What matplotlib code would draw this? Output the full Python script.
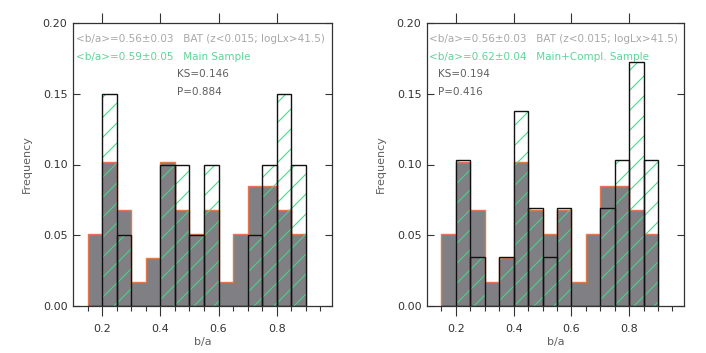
import numpy as np
import matplotlib
matplotlib.use("Agg")
import matplotlib.pyplot as plt

# ---- data ----
bin_edges = [0.15, 0.20, 0.25, 0.30, 0.35, 0.40, 0.45, 0.50, 0.55, 0.60,
             0.65, 0.70, 0.75, 0.80, 0.85, 0.90]
bat_freq = [0.0508, 0.1017, 0.0678, 0.0169, 0.0339, 0.1017, 0.0678, 0.0508,
            0.0678, 0.0169, 0.0508, 0.0847, 0.0847, 0.0678, 0.0508]
main_freq = [0.0, 0.15, 0.05, 0.0, 0.0, 0.10, 0.10, 0.05,
             0.10, 0.0, 0.0, 0.05, 0.10, 0.15, 0.10]
compl_freq = [0.0, 0.1034, 0.0345, 0.0, 0.0345, 0.1379, 0.0690, 0.0345,
              0.0690, 0.0, 0.0, 0.0690, 0.1034, 0.1724, 0.1034]

panel_samples = [main_freq, compl_freq]
line1 = "<b/a>=0.56\u00b10.03   BAT (z<0.015; logLx>41.5)"
line2_texts = ["<b/a>=0.59\u00b10.05   Main Sample",
               "<b/a>=0.62\u00b10.04   Main+Compl. Sample"]
ks_texts = ["KS=0.146", "KS=0.194"]
p_texts = ["P=0.884", "P=0.416"]
xticks_major = [0.2, 0.4, 0.6, 0.8]
yticks = [0.00, 0.05, 0.10, 0.15, 0.20]

# ---- style ----
DPI = 60
S = 100.0 / DPI  # point scale so sizes look as at 100 dpi
grey = "#808084"
orange = "#e0784f"
green = "#3fd888"
txt_grey = "#a8a8a8"
txt_green = "#5ed49a"
txt_dark = "#606060"
axcol = "#333333"
plt.rcParams['font.family'] = ['DejaVu Sans']
plt.rcParams['hatch.linewidth'] = 0.75 * S

W, H = 706, 353
fig = plt.figure(figsize=(W / DPI, H / DPI), dpi=DPI)

axes_px = [(73, 332), (427, 684)]
top_px, bot_px = 23, 306
text_x = [76, 429]
ks_x = [177, 438]

edges = np.array(bin_edges)
widths = np.diff(edges)
lefts = edges[:-1]
fs = 7.5 * S
tfs = 8 * S

for i, (l, r) in enumerate(axes_px):
    ax = fig.add_axes([l / W, 1 - bot_px / H, (r - l) / W, (bot_px - top_px) / H])
    sample = panel_samples[i]
    # BAT: grey filled step with orange outline
    ax.stairs(bat_freq, edges, fill=True, color=grey, zorder=1)
    ax.stairs(bat_freq, edges, baseline=0, color=orange, lw=1.0 * S, zorder=2)
    # sample: green hatch + black outline bars
    ax.bar(lefts, sample, width=widths, align='edge', facecolor='none',
           edgecolor=green, hatch='/', lw=0, zorder=3)
    ax.bar(lefts, sample, width=widths, align='edge', facecolor='none',
           edgecolor='#111111', lw=1.0 * S, zorder=4)

    ax.set_xlim(0.1, 0.99)
    ax.set_ylim(0, 0.2)
    ax.set_xticks(xticks_major)
    ax.set_xticklabels(["%.1f" % v for v in xticks_major])
    ax.set_xticks(np.arange(0.15, 0.99, 0.05), minor=True)
    ax.set_yticks(yticks)
    ax.set_yticklabels(["%.2f" % v for v in yticks])
    ax.tick_params(axis='x', which='major', direction='out', length=7 * S, width=0.8 * S,
                   colors=axcol, labelsize=tfs, pad=6 * S, top=True)
    ax.tick_params(axis='x', which='minor', direction='out', length=3.5 * S, width=0.8 * S,
                   colors=axcol, top=False)
    ax.tick_params(axis='y', which='major', direction='in', length=5 * S, width=0.8 * S,
                   colors=axcol, labelsize=tfs, right=True, pad=4 * S)
    for s in ax.spines.values():
        s.set_color(axcol)
        s.set_linewidth(0.9 * S)
    ax.set_xlabel("b/a", fontsize=tfs, color=txt_dark, labelpad=2 * S)
    ax.set_ylabel("Frequency", fontsize=tfs, color=txt_dark, labelpad=8 * S)

    def fx(px):
        return px / W
    def fy(py):
        return 1 - py / H
    fig.text(fx(text_x[i]), fy(39), line1, fontsize=fs, color=txt_grey, va='center')
    fig.text(fx(text_x[i]), fy(57), line2_texts[i], fontsize=fs, color=txt_green, va='center')
    fig.text(fx(ks_x[i]), fy(74), ks_texts[i], fontsize=fs, color=txt_dark, va='center')
    fig.text(fx(ks_x[i]), fy(92), p_texts[i], fontsize=fs, color=txt_dark, va='center')

fig.savefig("out.png", dpi=DPI)
